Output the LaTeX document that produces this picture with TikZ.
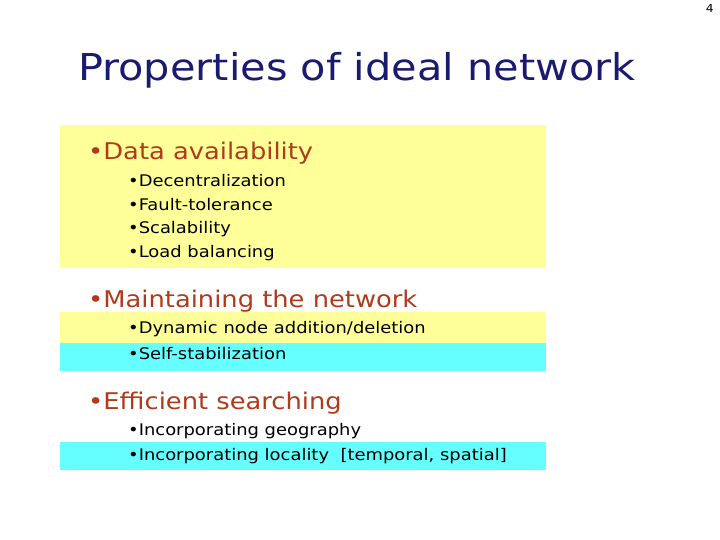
\documentclass[tikz,border=0pt]{standalone}
\usepackage{fontspec}
\setmainfont[FakeStretch=1.12]{DejaVu Sans}
\definecolor{yel}{HTML}{FFFF99}
\definecolor{cya}{HTML}{66FFFF}
\definecolor{head}{HTML}{B03A1A}
\definecolor{ttl}{HTML}{1A1A70}
\begin{document}
\begin{tikzpicture}[x=1pt,y=-1pt,
  title/.style={anchor=west,inner sep=0,text=ttl,font=\fontsize{37}{40}\selectfont},
  headtxt/.style={anchor=west,inner sep=0,text=head,font=\fontsize{23}{26}\selectfont},
  item/.style={anchor=west,inner sep=0,font=\fontsize{16}{19}\selectfont}]
\useasboundingbox (0,0) rectangle (720,540);
\fill[yel] (60,125) rectangle (546,268);
\fill[yel] (60,312) rectangle (546,343);
\fill[cya] (60,343) rectangle (546,371);
\fill[cya] (60,442) rectangle (546,470);
\node[anchor=north east,inner sep=0,font=\fontsize{11}{13}\selectfont] (pg) at (714,4) {4};
\node[title] (t) at (78,70) {Properties of ideal network};
\node[headtxt] (h1) at (88,153) {•Data availability};
\node[item] (a1) at (128,181) {•Decentralization};
\node[item] (a2) at (128,205) {•Fault-tolerance};
\node[item] (a3) at (128,229) {•Scalability};
\node[item] (a4) at (128,253) {•Load balancing};
\node[headtxt] (h2) at (88,301) {•Maintaining the network};
\node[item] (b1) at (128,329) {•Dynamic node addition/deletion};
\node[item] (b2) at (128,354) {•Self-stabilization};
\node[headtxt] (h3) at (88,403) {•Efficient searching};
\node[item] (c1) at (128,431) {•Incorporating geography};
\node[item] (c2) at (128,456) {•Incorporating locality\ \ [temporal, spatial]};
\end{tikzpicture}
\end{document}
